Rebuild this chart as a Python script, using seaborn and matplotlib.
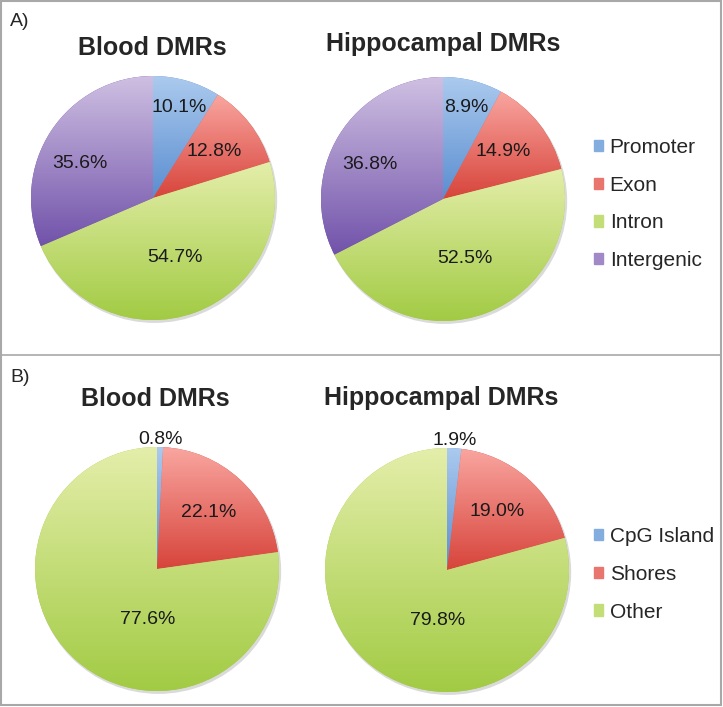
import numpy as np
import matplotlib
matplotlib.use("Agg")
import matplotlib.pyplot as plt
import matplotlib.patches as mpatches
from matplotlib.colors import LinearSegmentedColormap, to_rgb
import seaborn as sns

# ---- data ----
region_labels = ["Promoter", "Exon", "Intron", "Intergenic"]
blood_region = [10.1, 12.8, 54.7, 35.6]
hippo_region = [8.9, 14.9, 52.5, 36.8]

cpg_labels = ["CpG Island", "Shores", "Other"]
blood_cpg = [0.8, 22.1, 77.6]
hippo_cpg = [1.9, 19.0, 79.8]

titles = ["Blood DMRs", "Hippocampal DMRs"]

# ---- style ----
sns.set_theme(style="white")
plt.rcParams['font.family'] = ['Liberation Sans', 'DejaVu Sans']

grad_blue = ("#abcaee", "#5a8dd0")
grad_red = ("#f9a6a0", "#d7443b")
grad_green = ("#e4eeaa", "#a2cb44")
grad_purple = ("#cfc0e2", "#7152aa")
region_grads = [grad_blue, grad_red, grad_green, grad_purple]
cpg_grads = [grad_blue, grad_red, grad_green]

W, H = 723, 707
fig = plt.figure(figsize=(W / 100, H / 100), dpi=100)
R = 122
PAD = 1.06  # axes half-size in pie radii


def pie_axes(cx, cy, r=R):
    h = r * PAD
    return fig.add_axes([(cx - h) / W, 1 - (cy + h) / H, 2 * h / W, 2 * h / H])


def grad_pie(ax, values, grads, dists, angles):
    # soft shadow under the pie
    ax.add_patch(mpatches.Circle((0.012, -0.018), 1.0, color="#dadada", zorder=0))
    wedges, _ = ax.pie(values, startangle=90, counterclock=False, radius=1.0,
                       colors=[g[1] for g in grads],
                       wedgeprops=dict(linewidth=0))
    for w, g in zip(wedges, grads):
        bb = w.get_path().get_extents()
        cmap = LinearSegmentedColormap.from_list("g", [g[0], g[1]])
        grad = np.linspace(0, 1, 256).reshape(-1, 1)
        im = ax.imshow(grad, cmap=cmap, extent=[bb.x0, bb.x1, bb.y0, bb.y1],
                       origin="upper", aspect="auto", zorder=2)
        im.set_clip_path(w)
    for w, v, d, a in zip(wedges, values, dists, angles):
        mid = (w.theta1 + w.theta2) / 2 if a is None else a
        x = d * np.cos(np.radians(mid))
        y = d * np.sin(np.radians(mid))
        ax.text(x, y, f"{v:.1f}%", ha="center", va="center", fontsize=14,
                color="#1a1a1a", zorder=5)
    ax.set_xlim(-PAD, PAD)
    ax.set_ylim(-PAD, PAD)
    ax.set_aspect("equal")
    ax.axis("off")


region_dist = [0.77, 0.63, 0.52, 0.66]
region_ang = [None, None, None, 155]
cpg_dist = [1.06, 0.63, 0.42]
cpg_ang = [None, None, -100]

# Panel A
for (cx, cy), vals in zip([(153, 198), (443, 199)], [blood_region, hippo_region]):
    grad_pie(pie_axes(cx, cy), vals, region_grads, region_dist, region_ang)
# Panel B
for (cx, cy), vals in zip([(157, 569), (447, 570)], [blood_cpg, hippo_cpg]):
    grad_pie(pie_axes(cx, cy), vals, cpg_grads, cpg_dist, cpg_ang)

# titles
for (tx, ty), t in zip([(152, 48), (443, 44)], titles):
    fig.text(tx / W, 1 - ty / H, t, ha="center", va="center", fontsize=18, fontweight="bold")
for (tx, ty), t in zip([(155, 399), (441, 398)], titles):
    fig.text(tx / W, 1 - ty / H, t, ha="center", va="center", fontsize=18, fontweight="bold")

fig.text(10 / W, 1 - 22 / H, "A)", ha="left", va="center", fontsize=14)
fig.text(10 / W, 1 - 378 / H, "B)", ha="left", va="center", fontsize=14)


def mid_color(g):
    return (np.array(to_rgb(g[0])) + np.array(to_rgb(g[1]))) / 2


# legends
leg_kw = dict(loc="upper left", frameon=False, fontsize=15, handlelength=0.45,
              handleheight=0.45, handletextpad=0.3, labelspacing=0.9,
              borderaxespad=0, borderpad=0)
fig.legend([mpatches.Patch(color=mid_color(g)) for g in region_grads], region_labels,
           bbox_to_anchor=(594 / W, 1 - 138 / H), **leg_kw)
fig.legend([mpatches.Patch(color=mid_color(g)) for g in cpg_grads], cpg_labels,
           bbox_to_anchor=(594 / W, 1 - 527 / H), **leg_kw)

# panel frames
tr = fig.transFigure
fig.add_artist(mpatches.Rectangle((1 / W, 1 - 705 / H), 720 / W, 704 / H, transform=tr,
                                  fill=False, edgecolor="#a8a8a8", linewidth=1.5))
fig.add_artist(plt.Line2D([1 / W, 721 / W], [1 - 355 / H, 1 - 355 / H], transform=tr,
                          color="#a8a8a8", linewidth=1.2))

fig.savefig("out.png", dpi=100)
